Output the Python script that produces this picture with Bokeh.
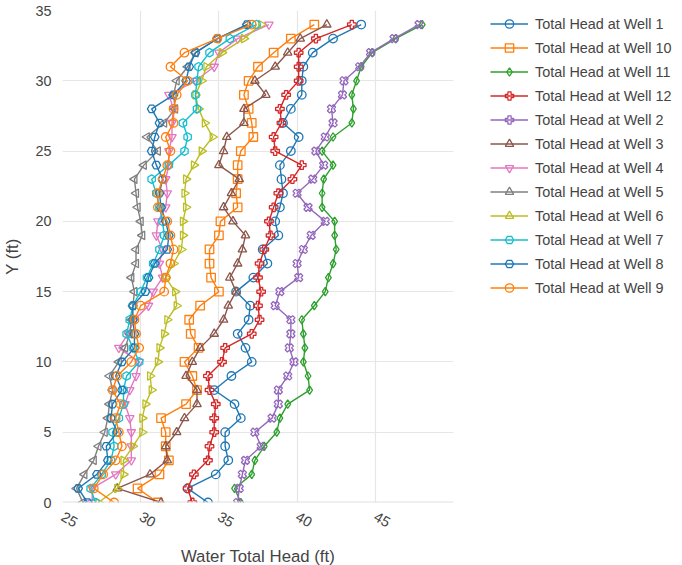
import math
from bokeh.plotting import figure
from bokeh.models import Range1d, Legend, LegendItem, Span, FixedTicker, ColumnDataSource
from bokeh.embed import file_html
from bokeh.resources import INLINE

depth_ft = list(range(35))

well_1 = [34.3, 33.0, 34.8, 35.6, 35.4, 35.4, 36.4, 36.0, 34.7, 35.8, 37.1, 36.7, 36.2, 36.9, 37.0, 36.1, 37.2, 38.1, 37.8, 38.8, 38.6, 38.9, 39.1, 39.0, 38.9, 39.6, 40.1, 39.1, 39.6, 40.3, 40.3, 40.4, 41.0, 42.3, 44.1]
well_10 = [31.1, 29.8, 31.2, 31.8, 31.6, 31.6, 31.3, 32.9, 33.6, 33.3, 32.8, 33.7, 33.2, 33.1, 33.8, 35.0, 34.5, 34.4, 34.4, 35.0, 35.1, 36.2, 36.1, 36.2, 36.2, 36.4, 37.2, 37.1, 36.9, 36.6, 36.9, 37.5, 38.5, 39.6, 41.1]
well_11 = [36.4, 36.0, 37.1, 37.3, 37.9, 38.7, 38.9, 39.4, 40.8, 40.7, 40.4, 40.5, 40.4, 40.3, 41.1, 41.8, 42.0, 42.3, 42.5, 42.4, 42.4, 41.6, 41.6, 41.7, 42.3, 41.6, 42.3, 43.5, 43.6, 43.5, 43.8, 44.1, 44.8, 46.3, 48.0]
well_12 = [33.3, 33.0, 33.4, 34.3, 34.4, 34.7, 34.7, 34.8, 34.4, 34.3, 35.2, 35.4, 37.1, 37.6, 37.5, 37.7, 37.5, 37.6, 37.9, 38.3, 38.2, 38.5, 38.8, 39.7, 40.3, 38.6, 38.5, 39.0, 38.9, 39.3, 40.1, 40.1, 40.1, 41.2, 43.5]
well_2 = [36.2, 36.3, 36.5, 36.7, 37.7, 37.3, 38.4, 38.8, 38.8, 39.4, 39.8, 39.5, 39.6, 39.6, 38.6, 38.9, 40.1, 40.0, 40.4, 40.9, 41.8, 40.7, 40.0, 41.0, 41.7, 41.2, 41.8, 42.3, 42.2, 42.9, 43.0, 44.0, 44.7, 46.2, 47.8]
well_3 = [31.3, 28.5, 30.6, 31.7, 31.6, 32.3, 32.8, 33.6, 33.6, 32.9, 33.3, 33.8, 34.7, 35.3, 35.6, 36.1, 35.7, 36.2, 36.5, 36.7, 35.9, 35.3, 35.8, 36.3, 35.0, 35.3, 35.5, 36.6, 36.6, 38.0, 37.3, 38.6, 39.4, 40.2, 41.9]
well_4 = [26.9, 26.9, 28.4, 29.4, 29.4, 29.4, 29.3, 29.0, 29.3, 29.7, 29.9, 28.6, 29.2, 29.6, 30.5, 30.8, 31.4, 31.2, 31.4, 31.0, 31.1, 31.6, 31.7, 31.6, 31.8, 31.8, 32.0, 32.0, 32.1, 31.8, 33.5, 34.7, 35.0, 36.2, 38.2]
well_5 = [26.3, 25.9, 26.4, 27.0, 27.3, 27.7, 27.9, 28.0, 28.2, 28.0, 28.6, 29.0, 29.3, 29.4, 29.5, 29.6, 29.4, 29.7, 29.7, 30.1, 30.0, 29.8, 29.7, 29.6, 30.2, 31.1, 30.4, 31.5, 32.2, 32.1, 32.3, 33.0, 33.5, 34.9, 36.8]
well_6 = [27.3, 28.5, 28.9, 28.9, 29.5, 30.1, 30.1, 30.3, 30.7, 30.6, 31.1, 31.2, 31.5, 31.7, 32.3, 32.2, 31.6, 32.1, 32.6, 32.7, 32.7, 32.9, 32.8, 32.9, 33.4, 33.9, 34.6, 34.1, 33.7, 33.5, 33.9, 34.2, 35.2, 36.6, 37.7]
well_7 = [27.1, 26.8, 27.5, 28.1, 28.3, 28.2, 28.6, 28.9, 28.9, 29.1, 29.9, 29.5, 29.1, 29.3, 29.5, 30.0, 30.4, 30.8, 31.2, 31.5, 31.4, 31.2, 31.0, 30.7, 31.8, 32.8, 33.0, 32.7, 33.6, 33.5, 33.6, 33.7, 34.4, 35.7, 37.4]
well_8 = [26.6, 26.0, 27.2, 27.9, 27.8, 28.5, 28.1, 28.2, 28.8, 28.4, 28.8, 29.6, 29.6, 29.5, 29.5, 30.3, 30.5, 30.9, 31.7, 31.8, 31.6, 31.3, 31.2, 31.4, 31.0, 30.7, 30.9, 31.2, 30.7, 32.1, 32.9, 33.1, 33.5, 34.9, 36.8]
well_9 = [28.3, 27.0, 27.6, 28.4, 28.8, 28.6, 28.4, 28.7, 28.2, 28.5, 29.4, 29.9, 29.7, 29.6, 30.0, 31.5, 31.6, 31.9, 32.1, 31.9, 31.7, 31.1, 31.1, 31.4, 31.7, 31.9, 31.6, 32.1, 32.1, 32.3, 33.0, 31.9, 32.8, 34.9, 37.1]

series_names = ["Total Head at Well 1", "Total Head at Well 10", "Total Head at Well 11",
                "Total Head at Well 12", "Total Head at Well 2", "Total Head at Well 3",
                "Total Head at Well 4", "Total Head at Well 5", "Total Head at Well 6",
                "Total Head at Well 7", "Total Head at Well 8", "Total Head at Well 9"]
series_values = [well_1, well_10, well_11, well_12, well_2, well_3,
                 well_4, well_5, well_6, well_7, well_8, well_9]
colors = ["#1f77b4", "#ff7f0e", "#2ca02c", "#d62728", "#9467bd", "#8c564b",
          "#e377c2", "#7f7f7f", "#bcbd22", "#17becf", "#1f77b4", "#ff7f0e"]
markers = [("circle", 0), ("square", 0), ("diamond", 0), ("plus", 0), ("plus", math.pi / 4),
           ("triangle", 0), ("inverted_triangle", 0), ("triangle", math.pi / 2),
           ("triangle", -math.pi / 2), ("hex", math.pi / 6), ("hex", 0), ("circle", 0)]

x_ticks = [25, 30, 35, 40, 45]
y_ticks = [0, 5, 10, 15, 20, 25, 30, 35]

FONT = "Liberation Sans"
TXT = "#444444"

p = figure(frame_width=391, frame_height=492,
           x_range=Range1d(25, 50), y_range=Range1d(0, 35),
           output_backend="svg", toolbar_location=None,
           min_border_left=59, min_border_top=10, min_border_right=216,
           min_border_bottom=55)
p.outline_line_color = None
p.background_fill_color = "white"

items = []
for name, vals, col, (mk, ang) in zip(series_names, series_values, colors, markers):
    src = ColumnDataSource(dict(x=vals, y=depth_ft, ang=[ang] * len(vals)))
    lr = p.line("x", "y", source=src, line_color=col, line_width=1.4)
    sr = p.scatter("x", "y", source=src, marker=mk, angle="ang", size=8.5,
                   line_color=col, line_width=1.3, fill_color=None)
    items.append(LegendItem(label=name, renderers=[lr, sr], index=0))

for ax in (p.xaxis[0], p.yaxis[0]):
    ax.axis_line_color = None
    ax.major_tick_line_color = None
    ax.minor_tick_line_color = None
    ax.major_label_text_font = FONT
    ax.major_label_text_font_size = "14.4px"
    ax.major_label_text_color = TXT
    ax.axis_label_text_font = FONT
    ax.axis_label_text_font_size = "16.8px"
    ax.axis_label_text_font_style = "normal"
    ax.axis_label_text_color = TXT

p.xaxis.ticker = FixedTicker(ticks=x_ticks)
p.yaxis.ticker = FixedTicker(ticks=y_ticks)
p.xaxis.major_label_orientation = -math.pi / 6
p.xaxis.axis_label = "Water Total Head (ft)"
p.yaxis.axis_label = "Y (ft)"
p.yaxis.major_label_standoff = 5
p.yaxis.axis_label_standoff = 10
p.xaxis.major_label_standoff = 7
p.xaxis.axis_label_standoff = 12

p.xgrid.ticker = FixedTicker(ticks=x_ticks[1:])
p.ygrid.ticker = FixedTicker(ticks=y_ticks)
p.xgrid.grid_line_color = "#e6e6e6"
p.ygrid.grid_line_color = "#e6e6e6"
p.xgrid.grid_line_width = 1.2
p.ygrid.grid_line_width = 1.2
p.add_layout(Span(location=0, dimension="width", line_color="#e0e0e0", line_width=2))

legend = Legend(items=items, location=(37, 204), margin=0, padding=0,
                border_line_color=None, background_fill_alpha=0,
                glyph_width=38, glyph_height=21, label_height=21, spacing=3,
                label_standoff=7, label_text_font=FONT, label_text_font_size="14.4px",
                label_text_color=TXT)
p.add_layout(legend, "right")

open("out.html", "w").write(file_html(p, INLINE))
